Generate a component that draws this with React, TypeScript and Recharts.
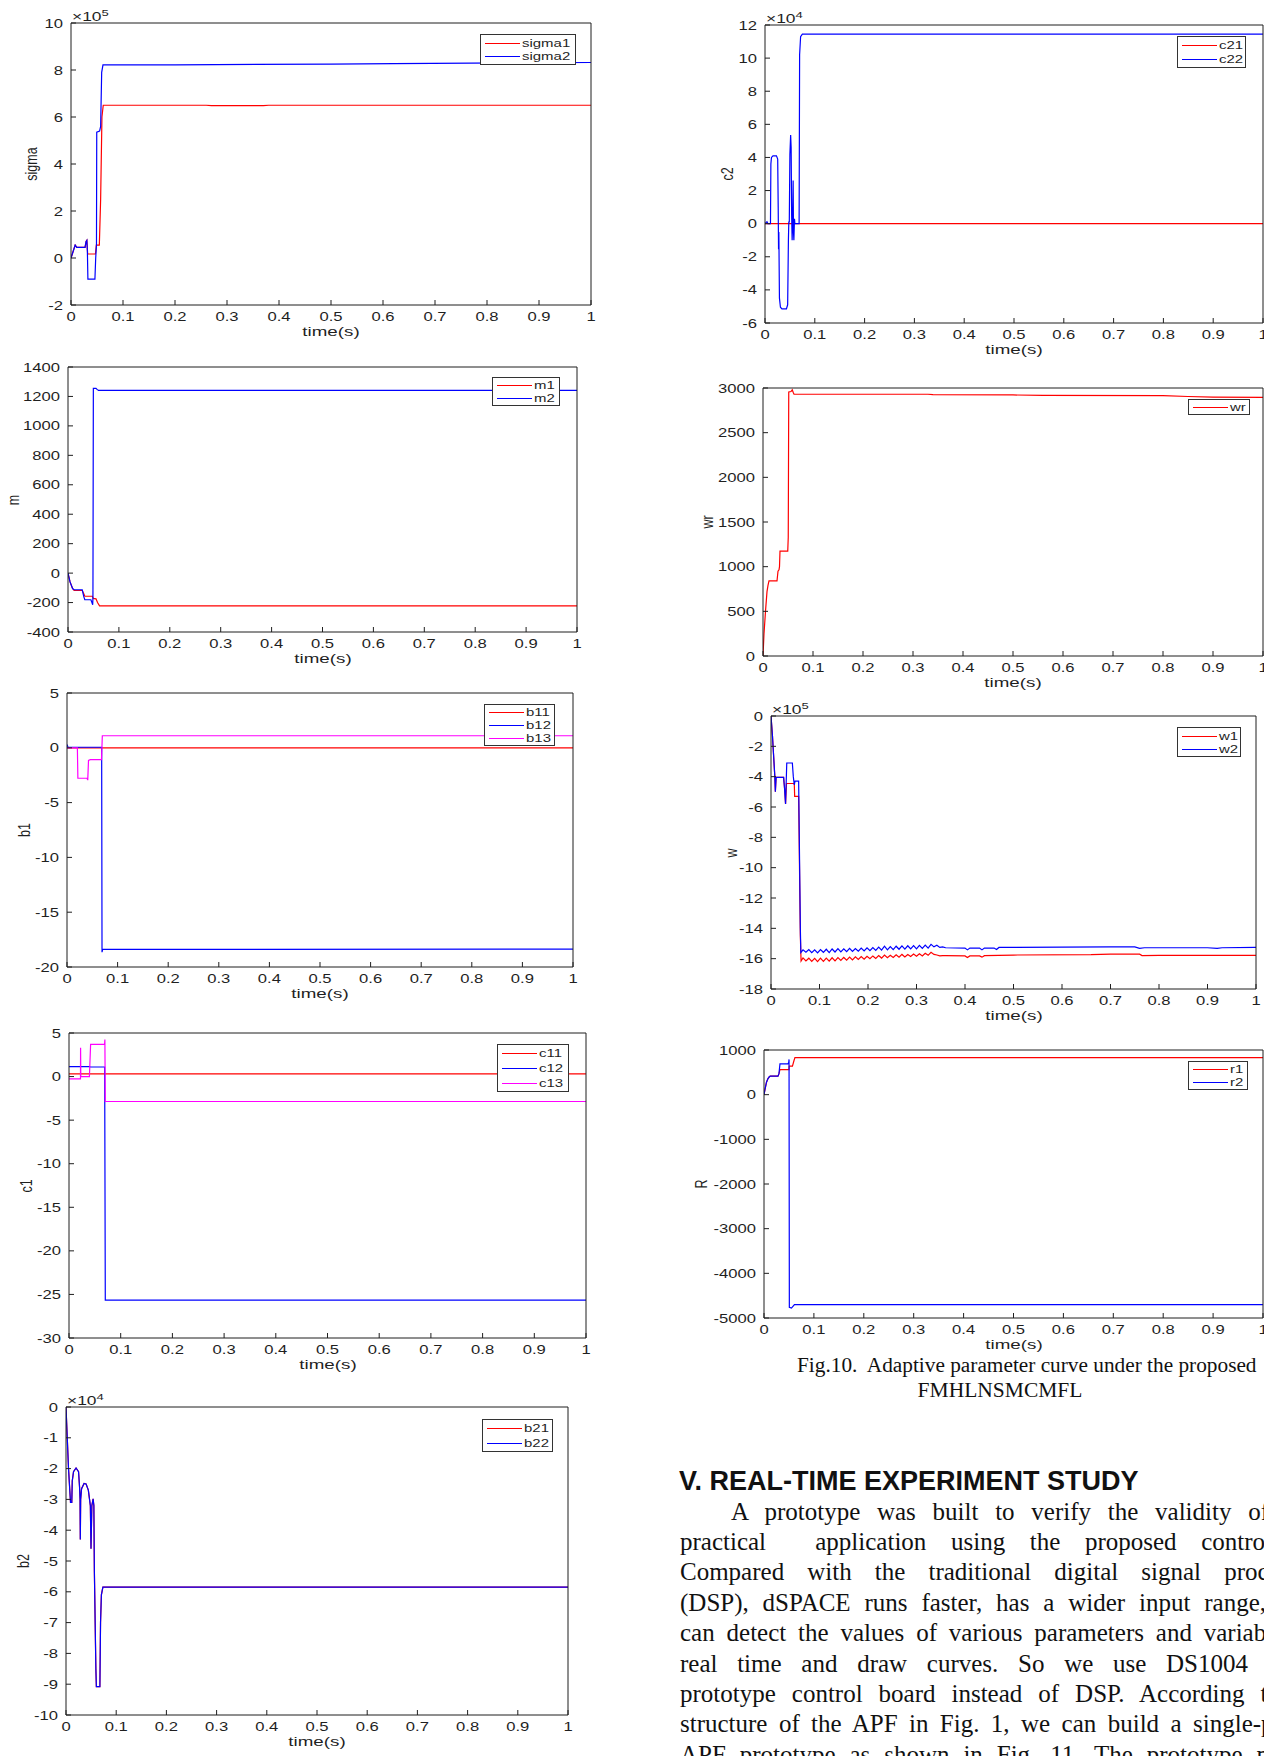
import React from 'react';
import { LineChart, Line, XAxis, YAxis } from 'recharts';

type Pt = [number, number];

const timeTicks = [0, 0.1, 0.2, 0.3, 0.4, 0.5, 0.6, 0.7, 0.8, 0.9, 1];

// sigma, x10^5
const sigmaTicks = [-2, 0, 2, 4, 6, 8, 10];
const sigma1: Pt[] = [
  [0, 0], [0.003, 0.2], [0.008, 0.55], [0.011, 0.45], [0.027, 0.45], [0.029, 0.7], [0.0305, 0.75],
  [0.032, 0.17], [0.047, 0.17], [0.0487, 0.55], [0.0545, 0.55], [0.057, 2.5], [0.0595, 6.0],
  [0.062, 6.5], [0.26, 6.5], [0.27, 6.48], [0.37, 6.48], [0.38, 6.5], [1, 6.5],
];
const sigma2: Pt[] = [
  [0, 0], [0.003, 0.2], [0.008, 0.55], [0.011, 0.45], [0.027, 0.45], [0.029, 0.7], [0.0305, 0.75],
  [0.0315, 0.3], [0.0325, -0.9], [0.046, -0.9], [0.0475, 0], [0.049, 0.55], [0.0495, 5.35],
  [0.055, 5.4], [0.057, 5.6], [0.059, 7.9], [0.0615, 8.22], [0.2, 8.22], [0.5, 8.25], [0.62, 8.27],
  [0.85, 8.3], [1, 8.32],
];

// m
const mTicks = [-400, -200, 0, 200, 400, 600, 800, 1000, 1200, 1400];
const m1: Pt[] = [
  [0, 0], [0.004, -60], [0.009, -105], [0.012, -118], [0.028, -118], [0.031, -140], [0.033, -157],
  [0.048, -157], [0.0495, -172], [0.055, -175], [0.058, -200], [0.062, -222], [1, -222],
];
const m2: Pt[] = [
  [0, 0], [0.004, -60], [0.009, -105], [0.012, -113], [0.028, -113], [0.031, -160], [0.033, -181],
  [0.045, -181], [0.047, -200], [0.0485, -215], [0.049, -170], [0.0498, 1255], [0.055, 1255],
  [0.057, 1248], [0.06, 1241], [1, 1241],
];

// b1
const b1Ticks = [-20, -15, -10, -5, 0, 5];
const b11: Pt[] = [[0, 0], [1, 0]];
const b12: Pt[] = [[0, 0.3], [0.002, 0.05], [0.0685, 0.05], [0.0692, -18.65], [0.0705, -18.4], [1, -18.37]];
const b13: Pt[] = [
  [0, 0], [0.0205, 0], [0.0215, -2.78], [0.0395, -2.78], [0.041, -2.95], [0.0425, -1.15],
  [0.046, -1.08], [0.0682, -1.08], [0.0698, 1.1], [1, 1.1],
];

// c1
const c1Ticks = [-30, -25, -20, -15, -10, -5, 0, 5];
const c11: Pt[] = [[0, 0.32], [1, 0.32]];
const c12: Pt[] = [[0, 1.15], [0.04, 1.15], [0.041, 1.1], [0.069, 1.1], [0.0702, -25.65], [1, -25.65]];
const c13: Pt[] = [
  [0, -0.27], [0.0222, -0.27], [0.0224, 3.3], [0.0228, 0], [0.0395, 0], [0.0418, 3.7],
  [0.0688, 3.7], [0.0694, 4.25], [0.0702, -2.86], [1, -2.86],
];

// b2, x10^4
const b2Ticks = [-10, -9, -8, -7, -6, -5, -4, -3, -2, -1, 0];
const b22: Pt[] = [
  [0, 0], [0.002, -0.8], [0.005, -2.0], [0.009, -3.1], [0.0115, -3.1], [0.0125, -2.4], [0.015, -2.1],
  [0.02, -1.98], [0.025, -2.1], [0.027, -2.6], [0.028, -3.0], [0.0285, -4.3], [0.0292, -3.0],
  [0.031, -2.65], [0.036, -2.48], [0.04, -2.5], [0.0445, -2.7], [0.0485, -3.2], [0.0498, -4.6],
  [0.0515, -3.2], [0.054, -2.98], [0.0555, -3.2], [0.0565, -5.3], [0.0595, -8.5], [0.0605, -9.08],
  [0.0675, -9.08], [0.0688, -7.0], [0.0705, -6.1], [0.0735, -5.85], [1, -5.85],
];
// b21 runs under b22 for the whole run
const b21: Pt[] = b22;

// c2, x10^4
const c2Ticks = [-6, -4, -2, 0, 2, 4, 6, 8, 10, 12];
const c21: Pt[] = [[0, 0], [1, 0]];
const c22: Pt[] = [
  [0, 0], [0.004, 0.12], [0.006, 0], [0.011, 0], [0.0118, 3.6], [0.013, 4.0], [0.016, 4.1],
  [0.023, 4.1], [0.0255, 3.9], [0.0265, 1.0], [0.0272, -1.55], [0.0278, -0.5], [0.029, -4.5],
  [0.031, -5.05], [0.034, -5.15], [0.043, -5.15], [0.0455, -4.9], [0.047, -1.0], [0.0478, 0.1],
  [0.0488, 0.1], [0.05, 4.2], [0.0515, 5.35], [0.0525, 4.6], [0.0535, 0.5], [0.0545, -1.0],
  [0.0555, 0.2], [0.0565, 2.6], [0.0572, -0.5], [0.058, -1.0], [0.0592, 0.3], [0.06, 0],
  [0.0685, 0], [0.0695, 10.2], [0.0715, 11.3], [0.075, 11.45], [1, 11.45],
];

// wr
const wrTicks = [0, 500, 1000, 1500, 2000, 2500, 3000];
const wr: Pt[] = [
  [0, 0], [0.002, 250], [0.005, 500], [0.008, 720], [0.01, 790], [0.012, 840], [0.028, 840],
  [0.03, 950], [0.032, 965], [0.033, 1000], [0.034, 1175], [0.0495, 1175], [0.0505, 1330],
  [0.0515, 2955], [0.056, 2960], [0.0585, 2980], [0.0605, 2950], [0.062, 2930], [0.33, 2930],
  [0.34, 2925], [0.5, 2922], [0.56, 2918], [0.8, 2915], [0.85, 2905], [0.9, 2898], [1, 2895],
];

// w, x10^5
const wTicks = [-18, -16, -14, -12, -10, -8, -6, -4, -2, 0];
const w1Start: Pt[] = [
  [0, 0], [0.003, -1.3], [0.0078, -3.95], [0.009, -5.0], [0.0105, -4.05], [0.026, -4.05],
  [0.028, -4.8], [0.03, -5.8], [0.032, -4.45], [0.048, -4.45], [0.0488, -5.3], [0.057, -5.3],
  [0.0605, -14.5], [0.062, -16.15],
];
const w2Start: Pt[] = [
  [0, 0], [0.003, -1.3], [0.0078, -3.95], [0.009, -5.0], [0.0105, -4.05], [0.026, -4.05],
  [0.028, -4.8], [0.03, -5.8], [0.0325, -3.1], [0.044, -3.1], [0.046, -4.0], [0.048, -4.55],
  [0.0495, -4.3], [0.057, -4.3], [0.0605, -14], [0.0615, -15.6],
];
const wRippleT = [
  0.066, 0.072, 0.078, 0.084, 0.09, 0.096, 0.102, 0.108, 0.114, 0.12, 0.126, 0.132, 0.138, 0.144,
  0.15, 0.156, 0.162, 0.168, 0.174, 0.18, 0.186, 0.192, 0.198, 0.204, 0.21, 0.216, 0.222, 0.228,
  0.234, 0.24, 0.246, 0.252, 0.258, 0.264, 0.27, 0.276, 0.282, 0.288, 0.294, 0.3, 0.306, 0.312,
  0.318, 0.324, 0.33, 0.336, 0.342, 0.348, 0.354, 0.36,
];
const w1Ripple = [
  -15.95, -16.15, -15.97, -16.18, -15.98, -16.2, -15.97, -16.18, -15.96, -16.16, -15.94, -16.15,
  -15.93, -16.12, -15.92, -16.1, -15.9, -16.08, -15.88, -16.05, -15.86, -16.04, -15.84, -16.0,
  -15.82, -15.98, -15.8, -15.96, -15.76, -15.94, -15.78, -15.92, -15.74, -15.9, -15.72, -15.88,
  -15.72, -15.86, -15.7, -15.84, -15.68, -15.82, -15.64, -15.78, -15.58, -15.72, -15.76, -15.82,
  -15.8, -15.8,
];
const w2Ripple = [
  -15.42, -15.58, -15.4, -15.6, -15.42, -15.62, -15.4, -15.58, -15.38, -15.6, -15.36, -15.56,
  -15.34, -15.55, -15.35, -15.54, -15.32, -15.52, -15.33, -15.5, -15.3, -15.49, -15.28, -15.47,
  -15.27, -15.45, -15.24, -15.44, -15.18, -15.42, -15.2, -15.4, -15.18, -15.38, -15.16, -15.37,
  -15.15, -15.36, -15.14, -15.35, -15.12, -15.32, -15.1, -15.3, -15.06, -15.22, -15.12, -15.26,
  -15.22, -15.28,
];
const w1Tail: Pt[] = [
  [0.4, -15.82], [0.405, -15.92], [0.41, -15.82], [0.43, -15.82], [0.435, -15.9], [0.44, -15.8],
  [0.5, -15.76], [0.66, -15.74], [0.7, -15.7], [0.76, -15.7], [0.765, -15.8], [0.8, -15.78], [1, -15.78],
];
const w2Tail: Pt[] = [
  [0.4, -15.3], [0.405, -15.42], [0.41, -15.3], [0.43, -15.3], [0.435, -15.42], [0.44, -15.3],
  [0.46, -15.3], [0.465, -15.4], [0.47, -15.26], [0.5, -15.25], [0.6, -15.24], [0.7, -15.22],
  [0.75, -15.22], [0.76, -15.32], [0.77, -15.28], [0.9, -15.28], [0.92, -15.32], [0.93, -15.28],
  [1, -15.25],
];
const w1: Pt[] = [...w1Start, ...wRippleT.map((t, i) => [t, w1Ripple[i]] as Pt), ...w1Tail];
const w2: Pt[] = [...w2Start, ...wRippleT.map((t, i) => [t, w2Ripple[i]] as Pt), ...w2Tail];

// R
const rTicks = [-5000, -4000, -3000, -2000, -1000, 0, 1000];
const r1: Pt[] = [
  [0, 0], [0.002, 120], [0.005, 280], [0.008, 360], [0.011, 405], [0.013, 415], [0.028, 415],
  [0.03, 470], [0.032, 560], [0.05, 560], [0.0505, 640], [0.057, 640], [0.06, 760], [0.062, 828],
  [1, 828],
];
const r2: Pt[] = [
  [0, 0], [0.002, 120], [0.005, 280], [0.008, 360], [0.011, 405], [0.013, 415], [0.028, 415],
  [0.03, 470], [0.032, 690], [0.048, 690], [0.0495, 720], [0.0502, 790], [0.0508, -4760],
  [0.055, -4778], [0.058, -4740], [0.061, -4702], [1, -4702],
];

const captionLines = ['Fig.10.  Adaptive parameter curve under the proposed', 'FMHLNSMCMFL'];
const heading = 'V. REAL-TIME EXPERIMENT STUDY';
const bodyLines = [
  'A prototype was built to verify the validity of',
  'practical  application using the proposed control',
  'Compared with the traditional digital signal processor',
  '(DSP), dSPACE runs faster, has a wider input range,',
  'can detect the values of various parameters and variables',
  'real time and draw curves. So we use DS1004',
  'prototype control board instead of DSP. According to',
  'structure of the APF in Fig. 1, we can build a single-phase',
  'APF prototype as shown in Fig. 11. The prototype model',
];
// left edge and justified width of each body line
const bodyLayout: [number, number][] = [
  [731, 538], [680, 592], [680, 640], [680, 586], [680, 614], [680, 568], [680, 600], [680, 638], [680, 639],
];

const RED = '#ff0000';
const BLUE = '#0000ff';
const MAGENTA = '#ff00ff';
const INK = '#1f1f1f';
const SANS = '"Liberation Sans", Arial, sans-serif';
const SERIF = '"Liberation Serif", "Times New Roman", serif';
const SX = 1.33; // lettering in the plots is drawn wide
const TICK_FS = 12.5;
const LW = 70;
const BH = 40;
const MT = 14;
const MR = 14;

type Series = { name: string; color: string; pts: Pt[] };
type PanelSpec = {
  box: [number, number, number, number];
  yDomain: [number, number];
  yTicks: number[];
  yLabel: string;
  yLabelX: number;
  exp?: string;
  series: Series[];
  legend: [number, number, number, number];
};

const toRows = (pts: Pt[]) => pts.map(([t, v]) => ({ t, v }));

function XTick({ x, y, payload }: any) {
  return (
    <text transform={`translate(${x},${y}) scale(${SX},1)`} textAnchor="middle" dy="0.72em" fill={INK} fontSize={TICK_FS} fontFamily={SANS}>
      {payload.value}
    </text>
  );
}

function YTick({ x, y, payload }: any) {
  return (
    <text transform={`translate(${x},${y}) scale(${SX},1)`} textAnchor="end" dy="0.36em" fill={INK} fontSize={TICK_FS} fontFamily={SANS}>
      {payload.value}
    </text>
  );
}

function Panel({ spec }: { spec: PanelSpec }) {
  const [pl, pt, pr, pb] = spec.box;
  const pw = pr - pl;
  const ph = pb - pt;
  const W = LW + pw + 1 + MR;
  const H = MT + 1 + ph + BH;
  const [lx, ly, lw, rh] = spec.legend;
  const n = spec.series.length;
  return (
    <>
      <div style={{ position: 'absolute', left: pl - LW, top: pt - 1 - MT }}>
        <LineChart width={W} height={H} margin={{ top: MT, right: MR, bottom: 0, left: 0 }}>
          <XAxis xAxisId="b" dataKey="t" type="number" domain={[0, 1]} ticks={timeTicks} interval={0} allowDataOverflow height={BH} tickSize={-5} tickMargin={12} stroke={INK} tick={<XTick />} />
          <XAxis xAxisId="t" orientation="top" dataKey="t" type="number" domain={[0, 1]} ticks={timeTicks} interval={0} allowDataOverflow height={1} tickSize={-5} stroke={INK} tick={false} />
          <YAxis yAxisId="l" type="number" domain={spec.yDomain} ticks={spec.yTicks} interval={0} allowDataOverflow width={LW} tickSize={-5} tickMargin={13} stroke={INK} tick={<YTick />} />
          <YAxis yAxisId="r" orientation="right" type="number" domain={spec.yDomain} ticks={spec.yTicks} interval={0} allowDataOverflow width={1} tickSize={-5} stroke={INK} tick={false} />
          {spec.series.map((s) => (
            <Line key={s.name} xAxisId="b" yAxisId="l" data={toRows(s.pts)} dataKey="v" name={s.name} type="linear" stroke={s.color} strokeWidth={1.2} dot={false} activeDot={false} isAnimationActive={false} />
          ))}
        </LineChart>
      </div>
      <div style={{ position: 'absolute', left: spec.yLabelX, top: (pt + pb) / 2, transform: 'translate(-50%, -50%) rotate(-90deg) scale(1, 1.35)', fontFamily: SANS, fontSize: 12.5, lineHeight: '12px', color: INK, whiteSpace: 'nowrap' }}>
        {spec.yLabel}
      </div>
      <div style={{ position: 'absolute', left: (pl + pr) / 2, top: pb + 31 - 10.5, transform: 'translateX(-50%) scaleX(1.5)', fontFamily: SANS, fontSize: 12.5, lineHeight: '12px', color: INK, whiteSpace: 'nowrap' }}>
        time(s)
      </div>
      {spec.exp && (
        <div style={{ position: 'absolute', left: pl + 1, top: pt - 12.5, transform: 'scaleX(1.45)', transformOrigin: 'left center', fontFamily: SANS, fontSize: 12, lineHeight: '12px', color: INK, whiteSpace: 'nowrap' }}>
          ×10<span style={{ position: 'relative', top: -5, fontSize: 9 }}>{spec.exp}</span>
        </div>
      )}
      <div style={{ position: 'absolute', left: lx, top: ly, width: lw, height: n * rh + 4, border: `1px solid #333`, background: '#fff', boxSizing: 'border-box' }}>
        {spec.series.map((s, i) => (
          <React.Fragment key={s.name}>
            <div style={{ position: 'absolute', left: 4, width: 35, top: Math.round(1.5 + (i + 0.5) * rh - 0.5), height: 1, background: s.color }} />
            <div style={{ position: 'absolute', left: 41, top: 1.5 + (i + 0.5) * rh - 6.5, transform: 'scaleX(1.3)', transformOrigin: 'left center', fontFamily: SANS, fontSize: 11.5, lineHeight: '12px', color: INK, whiteSpace: 'nowrap' }}>
              {s.name}
            </div>
          </React.Fragment>
        ))}
      </div>
    </>
  );
}

const panels: PanelSpec[] = [
  {
    box: [71, 23, 591, 305], yDomain: [-2, 10], yTicks: sigmaTicks, yLabel: 'sigma', yLabelX: 32, exp: '5',
    series: [{ name: 'sigma1', color: RED, pts: sigma1 }, { name: 'sigma2', color: BLUE, pts: sigma2 }],
    legend: [480, 34, 96, 13.3],
  },
  {
    box: [68, 367, 577, 632], yDomain: [-400, 1400], yTicks: mTicks, yLabel: 'm', yLabelX: 14,
    series: [{ name: 'm1', color: RED, pts: m1 }, { name: 'm2', color: BLUE, pts: m2 }],
    legend: [492, 377, 68, 12.5],
  },
  {
    box: [67, 693, 573, 967], yDomain: [-20, 5], yTicks: b1Ticks, yLabel: 'b1', yLabelX: 25,
    series: [{ name: 'b11', color: RED, pts: b11 }, { name: 'b12', color: BLUE, pts: b12 }, { name: 'b13', color: MAGENTA, pts: b13 }],
    legend: [484, 704, 71, 12.7],
  },
  {
    box: [69, 1033, 586, 1338], yDomain: [-30, 5], yTicks: c1Ticks, yLabel: 'c1', yLabelX: 27,
    series: [{ name: 'c11', color: RED, pts: c11 }, { name: 'c12', color: BLUE, pts: c12 }, { name: 'c13', color: MAGENTA, pts: c13 }],
    legend: [497, 1044, 72, 14.7],
  },
  {
    box: [66, 1407, 568, 1715], yDomain: [-10, 0], yTicks: b2Ticks, yLabel: 'b2', yLabelX: 24, exp: '4',
    series: [{ name: 'b21', color: RED, pts: b21 }, { name: 'b22', color: BLUE, pts: b22 }],
    legend: [482, 1419, 71, 14.5],
  },
  {
    box: [765, 25, 1263, 323], yDomain: [-6, 12], yTicks: c2Ticks, yLabel: 'c2', yLabelX: 728, exp: '4',
    series: [{ name: 'c21', color: RED, pts: c21 }, { name: 'c22', color: BLUE, pts: c22 }],
    legend: [1177, 36, 69, 14],
  },
  {
    box: [763, 388, 1263, 656], yDomain: [0, 3000], yTicks: wrTicks, yLabel: 'wr', yLabelX: 708,
    series: [{ name: 'wr', color: RED, pts: wr }],
    legend: [1188, 399, 62, 12],
  },
  {
    box: [771, 716, 1256, 989], yDomain: [-18, 0], yTicks: wTicks, yLabel: 'w', yLabelX: 732, exp: '5',
    series: [{ name: 'w1', color: RED, pts: w1 }, { name: 'w2', color: BLUE, pts: w2 }],
    legend: [1177, 727, 64, 13],
  },
  {
    box: [764, 1050, 1263, 1318], yDomain: [-5000, 1000], yTicks: rTicks, yLabel: 'R', yLabelX: 702,
    series: [{ name: 'r1', color: RED, pts: r1 }, { name: 'r2', color: BLUE, pts: r2 }],
    legend: [1188, 1061, 60, 12.5],
  },
];

export default function App() {
  return (
    <div style={{ position: 'fixed', left: 0, top: 0, width: 1264, height: 1756, overflow: 'hidden', background: '#fff' }}>
      {panels.map((p) => (
        <Panel key={p.yLabel} spec={p} />
      ))}

      <div style={{ position: 'absolute', left: 797, top: 1355, fontFamily: SERIF, fontSize: 21.3, lineHeight: '20px', color: '#111', whiteSpace: 'pre' }}>
        {captionLines[0]}
      </div>
      <div style={{ position: 'absolute', left: 1000, top: 1380, transform: 'translateX(-50%)', fontFamily: SERIF, fontSize: 21.5, lineHeight: '20px', color: '#111', whiteSpace: 'pre' }}>
        {captionLines[1]}
      </div>

      <div style={{ position: 'absolute', left: 679, top: 1468, fontFamily: SANS, fontWeight: 700, fontSize: 27, lineHeight: '26px', color: '#111', whiteSpace: 'nowrap' }}>
        {heading}
      </div>

      {bodyLines.map((line, i) => (
        <div
          key={i}
          style={{
            position: 'absolute',
            left: bodyLayout[i][0],
            width: bodyLayout[i][1],
            top: 1519.5 + i * 30.4 - 20.9,
            fontFamily: SERIF,
            fontSize: 25,
            lineHeight: '25px',
            color: '#111',
            whiteSpace: 'pre-wrap',
            textAlign: 'justify',
            textAlignLast: 'justify',
          }}
        >
          {line}
        </div>
      ))}
    </div>
  );
}
